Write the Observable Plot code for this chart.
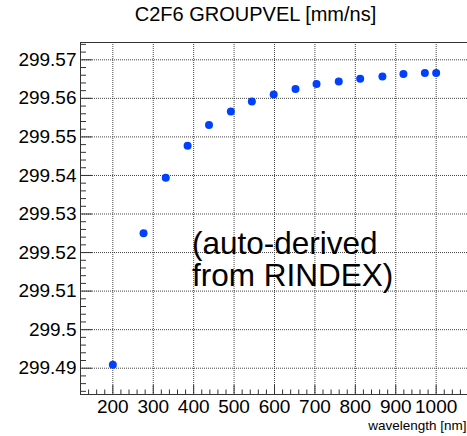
<!DOCTYPE html>
<html>
<head>
<meta charset="utf-8">
<script src="https://cdn.jsdelivr.net/npm/d3@7"></script>
<script src="https://cdn.jsdelivr.net/npm/@observablehq/plot@0.6"></script>
<style>
  html, body { margin: 0; padding: 0; background: #fff; }
  #chart svg { display: block; }
</style>
</head>
<body>
<div id="chart"></div>
<script>
// Group velocity of C2F6 versus photon wavelength
const wavelength = [200, 276, 331, 385, 438, 492, 544, 598, 652, 704, 759, 812, 867, 919, 972, 1000];
const groupVel = [299.4909, 299.5250, 299.5394, 299.5477, 299.5531, 299.5566, 299.5592, 299.5610,
                  299.5624, 299.5637, 299.5644, 299.5651, 299.5657, 299.5663, 299.5666, 299.5666];

const xTicks = [200, 300, 400, 500, 600, 700, 800, 900, 1000];
const xTickLabels = ["200", "300", "400", "500", "600", "700", "800", "900", "1000"];
const yTicks = [299.49, 299.50, 299.51, 299.52, 299.53, 299.54, 299.55, 299.56, 299.57];
const yTickLabels = ["299.49", "299.5", "299.51", "299.52", "299.53", "299.54", "299.55", "299.56", "299.57"];

const titleText = "C2F6 GROUPVEL [mm/ns]";
const xTitle = "wavelength [nm]";
const noteText = "(auto-derived\nfrom RINDEX)";

const xDomain = [120, 1080];
const yDomain = [299.48318, 299.57449];

const points = wavelength.map((w, i) => ({w, v: groupVel[i]}));

// secondary tick positions between the labelled ones
const xMinor = d3.range(120, 1081, 20).filter(v => v % 100 !== 0);
const yMinor = d3.range(-3, 43).filter(i => i % 5 !== 0).map(i => 299.49 + i * 0.002);

const W = 467, H = 436;
const mL = 80, mR = 0, mT = 42, mB = 42;
const frameW = W - mL - mR, frameH = H - mT - mB;

const font = "'Liberation Sans', Arial, Helvetica, sans-serif";
const gridStyle = {stroke: "#444", strokeWidth: 1, strokeDasharray: "1,1"};
const axisColor = "#333";

const chart = Plot.plot({
  width: W,
  height: H,
  marginLeft: mL,
  marginRight: mR,
  marginTop: mT,
  marginBottom: mB,
  style: {fontFamily: font, background: "white", color: "#000"},
  x: {domain: xDomain, range: [mL, 468], axis: null},
  y: {domain: yDomain, axis: null},
  marks: [
    // dotted grid
    Plot.ruleX(xTicks, gridStyle),
    Plot.ruleY(yTicks, gridStyle),
    // inward ticks on left axis
    Plot.ruleY(yTicks, {stroke: axisColor, insetRight: frameW - 12}),
    Plot.ruleY(yMinor, {stroke: axisColor, insetRight: frameW - 6}),
    // inward ticks on bottom axis
    Plot.ruleX(xTicks, {stroke: axisColor, insetTop: frameH - 9}),
    Plot.ruleX(xMinor, {stroke: axisColor, insetTop: frameH - 4.5}),
    // frame edges
    Plot.ruleX([xDomain[0]], {stroke: axisColor}),
    Plot.ruleY([yDomain[0]], {stroke: axisColor}),
    Plot.ruleY([yDomain[1]], {stroke: axisColor}),
    // tick labels
    Plot.axisY(yTicks, {
      anchor: "left", tickSize: 0, tickPadding: 4, fontSize: 19,
      tickFormat: (d, i) => yTickLabels[i], label: null
    }),
    Plot.axisX(xTicks, {
      anchor: "bottom", tickSize: 0, tickPadding: 5, fontSize: 19,
      tickFormat: (d, i) => xTickLabels[i], label: null
    }),
    // data points
    Plot.dot(points, {x: "w", y: "v", r: 4, fill: "#0040ff", stroke: "none"}),
    // annotation inside the frame
    Plot.text([noteText], {
      frameAnchor: "top-left", dx: 111.5, dy: 188.6, text: d => d,
      textAnchor: "start", lineAnchor: "top", fontSize: 31.5, lineHeight: 1.016, fill: "#000"
    }),
    // title
    Plot.text([titleText], {
      frameAnchor: "top", dx: -18.5, dy: -35.5, text: d => d,
      textAnchor: "middle", lineAnchor: "top", fontSize: 20, fill: "#000"
    }),
    // x axis title
    Plot.text([xTitle], {
      frameAnchor: "bottom-right", dx: -1, dy: 26, text: d => d,
      textAnchor: "end", lineAnchor: "top", fontSize: 13.5, fill: "#000"
    })
  ]
});

document.getElementById("chart").appendChild(chart);
</script>
</body>
</html>
